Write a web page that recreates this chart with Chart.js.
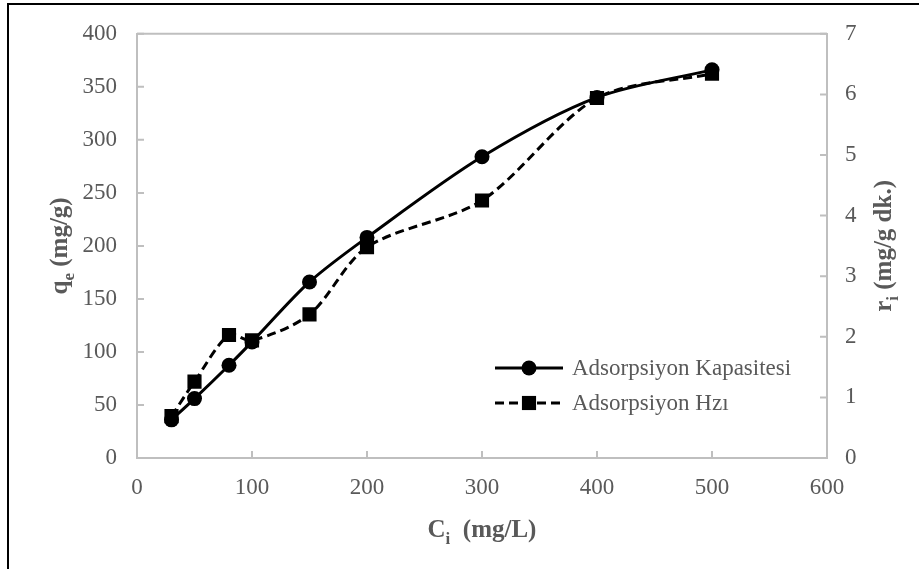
<!DOCTYPE html>
<html>
<head>
<meta charset="utf-8">
<script src="https://cdn.jsdelivr.net/npm/chart.js@4/dist/chart.umd.min.js"></script>
<style>
  html, body { margin: 0; padding: 0; background: #fff; }
  canvas { display: block; }
</style>
</head>
<body>
<canvas id="chart" width="919" height="569"></canvas>
<script>
// initial concentration, mg/L
const concentrations = [30, 50, 80, 100, 150, 200, 300, 400, 500];
// adsorption capacity q_e (mg/g), left axis
const capacity = [36, 56, 87.5, 109.5, 166, 208, 284, 340, 366];
// adsorption rate r_i (mg/g dk.), right axis
const rate = [0.69, 1.26, 2.03, 1.94, 2.37, 3.48, 4.25, 5.94, 6.34];

const seriesNames = ['Adsorpsiyon Kapasitesi', 'Adsorpsiyon Hzı'];

const FONT = "'Liberation Serif', 'Times New Roman', serif";
const TEXT_GRAY = '#595959';
const AXIS_GRAY = '#bfbfbf';

function toPoints(xs, ys) {
  return xs.map((x, i) => ({ x: x, y: ys[i] }));
}

// draws text with subscript parts, centered at (0,0) on its baseline
function drawRich(ctx, parts, size) {
  const subSize = Math.round(size * 0.68);
  let total = 0;
  parts.forEach(p => {
    ctx.font = `bold ${p.sub ? subSize : size}px ${FONT}`;
    p.w = ctx.measureText(p.t).width;
    total += p.w;
  });
  let x = -total / 2;
  ctx.textAlign = 'left';
  ctx.textBaseline = 'alphabetic';
  parts.forEach(p => {
    ctx.font = `bold ${p.sub ? subSize : size}px ${FONT}`;
    ctx.fillText(p.t, x, p.sub ? size * 0.28 : 0);
    x += p.w;
  });
}

const decorations = {
  id: 'decorations',
  beforeDraw(chart) {
    const ctx = chart.ctx;
    ctx.save();
    ctx.fillStyle = '#fff';
    ctx.fillRect(0, 0, chart.width, chart.height);
    // outer frame of the figure
    ctx.strokeStyle = '#000';
    ctx.lineWidth = 2;
    ctx.beginPath();
    ctx.moveTo(8, chart.height);
    ctx.lineTo(8, 4);
    ctx.lineTo(chart.width, 4);
    ctx.stroke();
    ctx.restore();
  },
  afterDraw(chart) {
    const ctx = chart.ctx;
    const area = chart.chartArea;
    const { x, y, y1 } = chart.scales;
    ctx.save();
    ctx.strokeStyle = AXIS_GRAY;
    ctx.lineWidth = 2;
    // top border of plot area
    ctx.beginPath();
    ctx.moveTo(area.left, area.top);
    ctx.lineTo(area.right, area.top);
    ctx.stroke();
    // inside tick marks
    ctx.beginPath();
    y.ticks.forEach(t => {
      const py = y.getPixelForValue(t.value);
      ctx.moveTo(area.left, py);
      ctx.lineTo(area.left + 7, py);
    });
    y1.ticks.forEach(t => {
      const py = y1.getPixelForValue(t.value);
      ctx.moveTo(area.right, py);
      ctx.lineTo(area.right - 7, py);
    });
    x.ticks.forEach(t => {
      const px = x.getPixelForValue(t.value);
      ctx.moveTo(px, area.bottom);
      ctx.lineTo(px, area.bottom - 7);
    });
    ctx.stroke();

    // axis titles with subscripts
    ctx.fillStyle = TEXT_GRAY;
    const cx = (area.left + area.right) / 2;
    const cy = (area.top + area.bottom) / 2;
    ctx.save();
    ctx.translate(cx, 537);
    drawRich(ctx, [{ t: 'C' }, { t: 'i', sub: true }, { t: '  (mg/L)' }], 25);
    ctx.restore();
    ctx.save();
    ctx.translate(67, cy);
    ctx.rotate(-Math.PI / 2);
    drawRich(ctx, [{ t: 'q' }, { t: 'e', sub: true }, { t: ' (mg/g)' }], 25);
    ctx.restore();
    ctx.save();
    ctx.translate(891, cy);
    ctx.rotate(-Math.PI / 2);
    drawRich(ctx, [{ t: 'r' }, { t: 'i', sub: true }, { t: ' (mg/g dk.)' }], 25);
    ctx.restore();

    // legend inside plot area
    const rows = [368, 403];
    chart.data.datasets.forEach((ds, i) => {
      const ly = rows[i];
      ctx.strokeStyle = '#000';
      ctx.lineWidth = 3;
      ctx.setLineDash(ds.borderDash || []);
      ctx.beginPath();
      ctx.moveTo(495, ly);
      ctx.lineTo(563, ly);
      ctx.stroke();
      ctx.setLineDash([]);
      ctx.fillStyle = '#000';
      Chart.helpers.drawPoint(ctx, { pointStyle: ds.pointStyle, radius: ds.pointRadius, borderWidth: 0 }, 529, ly);
      ctx.fillStyle = TEXT_GRAY;
      ctx.font = `23px ${FONT}`;
      ctx.textAlign = 'left';
      ctx.textBaseline = 'middle';
      ctx.fillText(ds.label, 572, ly + 1);
    });
    ctx.restore();
  }
};

const tickStyle = { color: TEXT_GRAY, font: { family: FONT, size: 23 } };
const noGrid = { display: false, drawTicks: false };

new Chart(document.getElementById('chart'), {
  type: 'line',
  data: {
    datasets: [{
      label: seriesNames[0],
      data: toPoints(concentrations, capacity),
      yAxisID: 'y',
      borderColor: '#000',
      backgroundColor: '#000',
      borderWidth: 3,
      tension: 0.3,
      pointStyle: 'circle',
      pointRadius: 7.5,
      pointBorderWidth: 0,
      fill: false,
    }, {
      label: seriesNames[1],
      data: toPoints(concentrations, rate),
      yAxisID: 'y1',
      borderColor: '#000',
      backgroundColor: '#000',
      borderWidth: 3,
      borderDash: [9, 5],
      tension: 0.3,
      pointStyle: 'rect',
      pointRadius: 10,
      pointBorderWidth: 0,
      fill: false,
    }],
  },
  options: {
    responsive: false,
    animation: false,
    devicePixelRatio: 1,
    layout: { padding: { top: 33, left: 0, right: 0, bottom: 0 } },
    plugins: {
      legend: { display: false },
      tooltip: { enabled: false },
    },
    scales: {
      x: {
        type: 'linear',
        min: 0,
        max: 600,
        ticks: { ...tickStyle, stepSize: 100, padding: 16, maxRotation: 0 },
        grid: noGrid,
        border: { display: true, color: AXIS_GRAY, width: 2 },
        afterFit(scale) { scale.height = 111; },
      },
      y: {
        position: 'left',
        min: 0,
        max: 400,
        ticks: { ...tickStyle, stepSize: 50, padding: 20 },
        grid: noGrid,
        border: { display: true, color: AXIS_GRAY, width: 2 },
        afterFit(scale) { scale.width = 137; },
      },
      y1: {
        position: 'right',
        min: 0,
        max: 7,
        ticks: { ...tickStyle, stepSize: 1, padding: 18 },
        grid: noGrid,
        border: { display: true, color: AXIS_GRAY, width: 2 },
        afterFit(scale) { scale.width = 92; },
      },
    },
  },
  plugins: [decorations],
});
</script>
</body>
</html>
